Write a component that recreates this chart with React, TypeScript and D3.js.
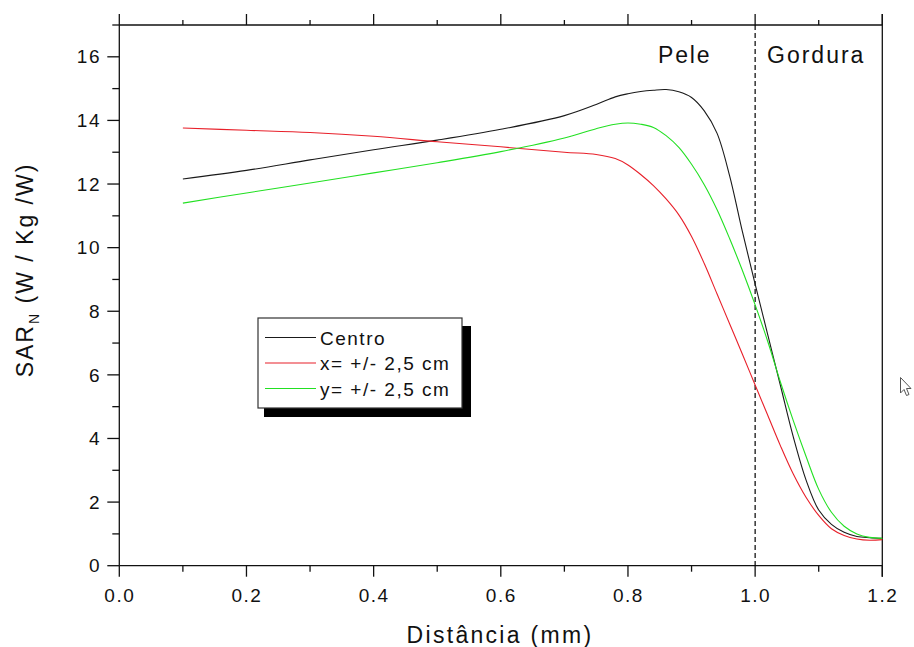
import React from "react";
import * as d3 from "d3";

// Distance along the profile (mm)
const distance = [
  0.1, 0.2, 0.3, 0.4, 0.5, 0.6, 0.7, 0.75, 0.78, 0.8, 0.82, 0.84, 0.86, 0.88, 0.9,
  0.92, 0.94, 0.96, 0.98, 1.0, 1.02, 1.04, 1.06, 1.08, 1.1, 1.12, 1.14, 1.16, 1.18, 1.2,
];

// Normalised SAR (W/Kg/W) for each probe position
const centro = [
  12.16, 12.43, 12.76, 13.08, 13.38, 13.72, 14.15, 14.5, 14.74, 14.84, 14.91, 14.95, 14.97, 14.9, 14.72,
  14.3, 13.6, 12.25, 10.5, 8.85, 7.25, 5.65, 4.05, 2.7, 1.75, 1.3, 1.05, 0.92, 0.88, 0.86,
];
const xOffset = [
  13.76, 13.69, 13.62, 13.5, 13.33, 13.17, 13.0, 12.93, 12.8, 12.6, 12.3, 11.95, 11.53, 11.03, 10.35,
  9.5, 8.55, 7.6, 6.65, 5.68, 4.72, 3.76, 2.88, 2.15, 1.58, 1.16, 0.95, 0.84, 0.8, 0.82,
];
const yOffset = [
  11.4, 11.72, 12.03, 12.35, 12.67, 13.02, 13.45, 13.74, 13.88, 13.92, 13.88, 13.78, 13.52, 13.15, 12.62,
  11.98, 11.2, 10.28, 9.28, 8.2, 7.04, 5.76, 4.56, 3.44, 2.4, 1.68, 1.24, 1.0, 0.89, 0.86,
];

const seriesNames = ["Centro", "x= +/- 2,5 cm", "y= +/- 2,5 cm"];
const seriesValues = [centro, xOffset, yOffset];
const seriesColors = ["#1a1a1a", "#e8202a", "#22e022"];

const xTicks = [0, 0.2, 0.4, 0.6, 0.8, 1.0, 1.2];
const yTicks = [0, 2, 4, 6, 8, 10, 12, 14, 16];
const regionLabels = ["Pele", "Gordura"];
const boundary = 1.0;

const W = 914;
const H = 647;
const M = { left: 119.3, right: 882.3, top: 25, bottom: 565.7 };
const FONT = "'Liberation Sans', Arial, Helvetica, sans-serif";

export default function App() {
  const x = d3.scaleLinear().domain([0, 1.2]).range([M.left, M.right]);
  const y = d3.scaleLinear().domain([0, 17]).range([M.bottom, M.top]);

  const line = d3
    .line<number>()
    .x((_, i) => x(distance[i]))
    .y((v) => y(v))
    .curve(d3.curveCatmullRom.alpha(0.5));

  const xMinor = d3.range(0, 13).map((i) => i / 10);
  const yMinor = d3.range(0, 18);

  const axisColor = "#111";
  const legendX = 258;
  const legendY = 318;
  const legendW = 204;
  const legendH = 90;

  return (
    <svg
      width={W}
      height={H}
      style={{ position: "absolute", left: 0, top: 0, background: "#fff" }}
      fontFamily={FONT}
    >
      <rect width={W} height={H} fill="#fff" />

      {/* frame */}
      <line x1={M.left} x2={M.left} y1={M.top} y2={M.bottom} stroke={axisColor} strokeWidth={1.3} />
      <line x1={M.right} x2={M.right} y1={M.top - 11} y2={M.bottom + 11} stroke={axisColor} strokeWidth={1.3} />
      <line x1={M.left} x2={M.right} y1={M.bottom} y2={M.bottom} stroke={axisColor} strokeWidth={1.3} />
      <line x1={M.left} x2={M.right} y1={M.top} y2={M.top} stroke={axisColor} strokeWidth={1.3} />

      {/* x ticks, bottom and top */}
      {xMinor.map((t, i) => {
        const major = i % 2 === 0;
        const len = major ? 11 : 6;
        return (
          <g key={"xt" + i}>
            <line x1={x(t)} x2={x(t)} y1={M.bottom} y2={M.bottom + len} stroke={axisColor} strokeWidth={1.3} />
            <line x1={x(t)} x2={x(t)} y1={M.top} y2={M.top - (major ? 11 : 5)} stroke={axisColor} strokeWidth={1.3} />
          </g>
        );
      })}
      {/* y ticks, left */}
      {yMinor.map((t) => {
        const major = t % 2 === 0;
        const len = major ? 12 : 7;
        return (
          <line key={"yt" + t} x1={M.left - len} x2={M.left} y1={y(t)} y2={y(t)} stroke={axisColor} strokeWidth={1.3} />
        );
      })}

      {/* tick labels */}
      {xTicks.map((t) => (
        <text
          key={"xl" + t}
          x={x(t) + 0.5}
          y={602}
          textAnchor="middle"
          fontSize={19}
          letterSpacing={1.5}
          fill="#111"
        >
          {t.toFixed(1)}
        </text>
      ))}
      {yTicks.map((t) => (
        <text
          key={"yl" + t}
          x={101}
          y={y(t)}
          dy="0.35em"
          textAnchor="end"
          fontSize={19}
          letterSpacing={1.5}
          fill="#111"
        >
          {t}
        </text>
      ))}

      {/* axis titles */}
      <text x={500} y={643} textAnchor="middle" fontSize={23} letterSpacing={2.3} fill="#111">
        Distância (mm)
      </text>
      <text transform="translate(33,270) rotate(-90)" textAnchor="middle" fontSize={23} letterSpacing={2} fill="#111">
        SAR
        <tspan fontSize={14} dy={6}>N</tspan>
        <tspan dy={-6}> (W / Kg /W)</tspan>
      </text>

      {/* tissue boundary */}
      <line
        x1={x(boundary)}
        x2={x(boundary)}
        y1={M.top}
        y2={M.bottom}
        stroke="#000"
        strokeWidth={1.2}
        strokeDasharray="5,3"
      />
      <text x={658} y={63} fontSize={23} letterSpacing={1.8} fill="#111">
        {regionLabels[0]}
      </text>
      <text x={767} y={63} fontSize={23} letterSpacing={2} fill="#111">
        {regionLabels[1]}
      </text>

      {/* curves */}
      {seriesValues.map((vals, i) => (
        <path key={"s" + i} d={line(vals) || ""} fill="none" stroke={seriesColors[i]} strokeWidth={1.1} />
      ))}

      {/* legend */}
      <rect x={legendX + 6} y={legendY + 8} width={legendW + 3} height={legendH + 1} fill="#000" />
      <rect x={legendX} y={legendY} width={legendW} height={legendH} fill="#fff" stroke="#333" strokeWidth={1.2} />
      {seriesNames.map((name, i) => {
        const ly = legendY + 19.5 + i * 25.5;
        return (
          <g key={"lg" + i}>
            <line x1={legendX + 7} x2={legendX + 58} y1={ly} y2={ly} stroke={seriesColors[i]} strokeWidth={1.1} />
            <text x={legendX + 62} y={ly + 7} fontSize={19} letterSpacing={1.5} fill="#111">
              {name}
            </text>
          </g>
        );
      })}

      {/* mouse pointer */}
      <path
        d="M900.5,377.5 L900.5,393 L904,389.5 L906.5,395.5 L909,394.5 L906.5,388.5 L911,388.5 Z"
        fill="#fff"
        stroke="#555"
        strokeWidth={1}
      />
    </svg>
  );
}
